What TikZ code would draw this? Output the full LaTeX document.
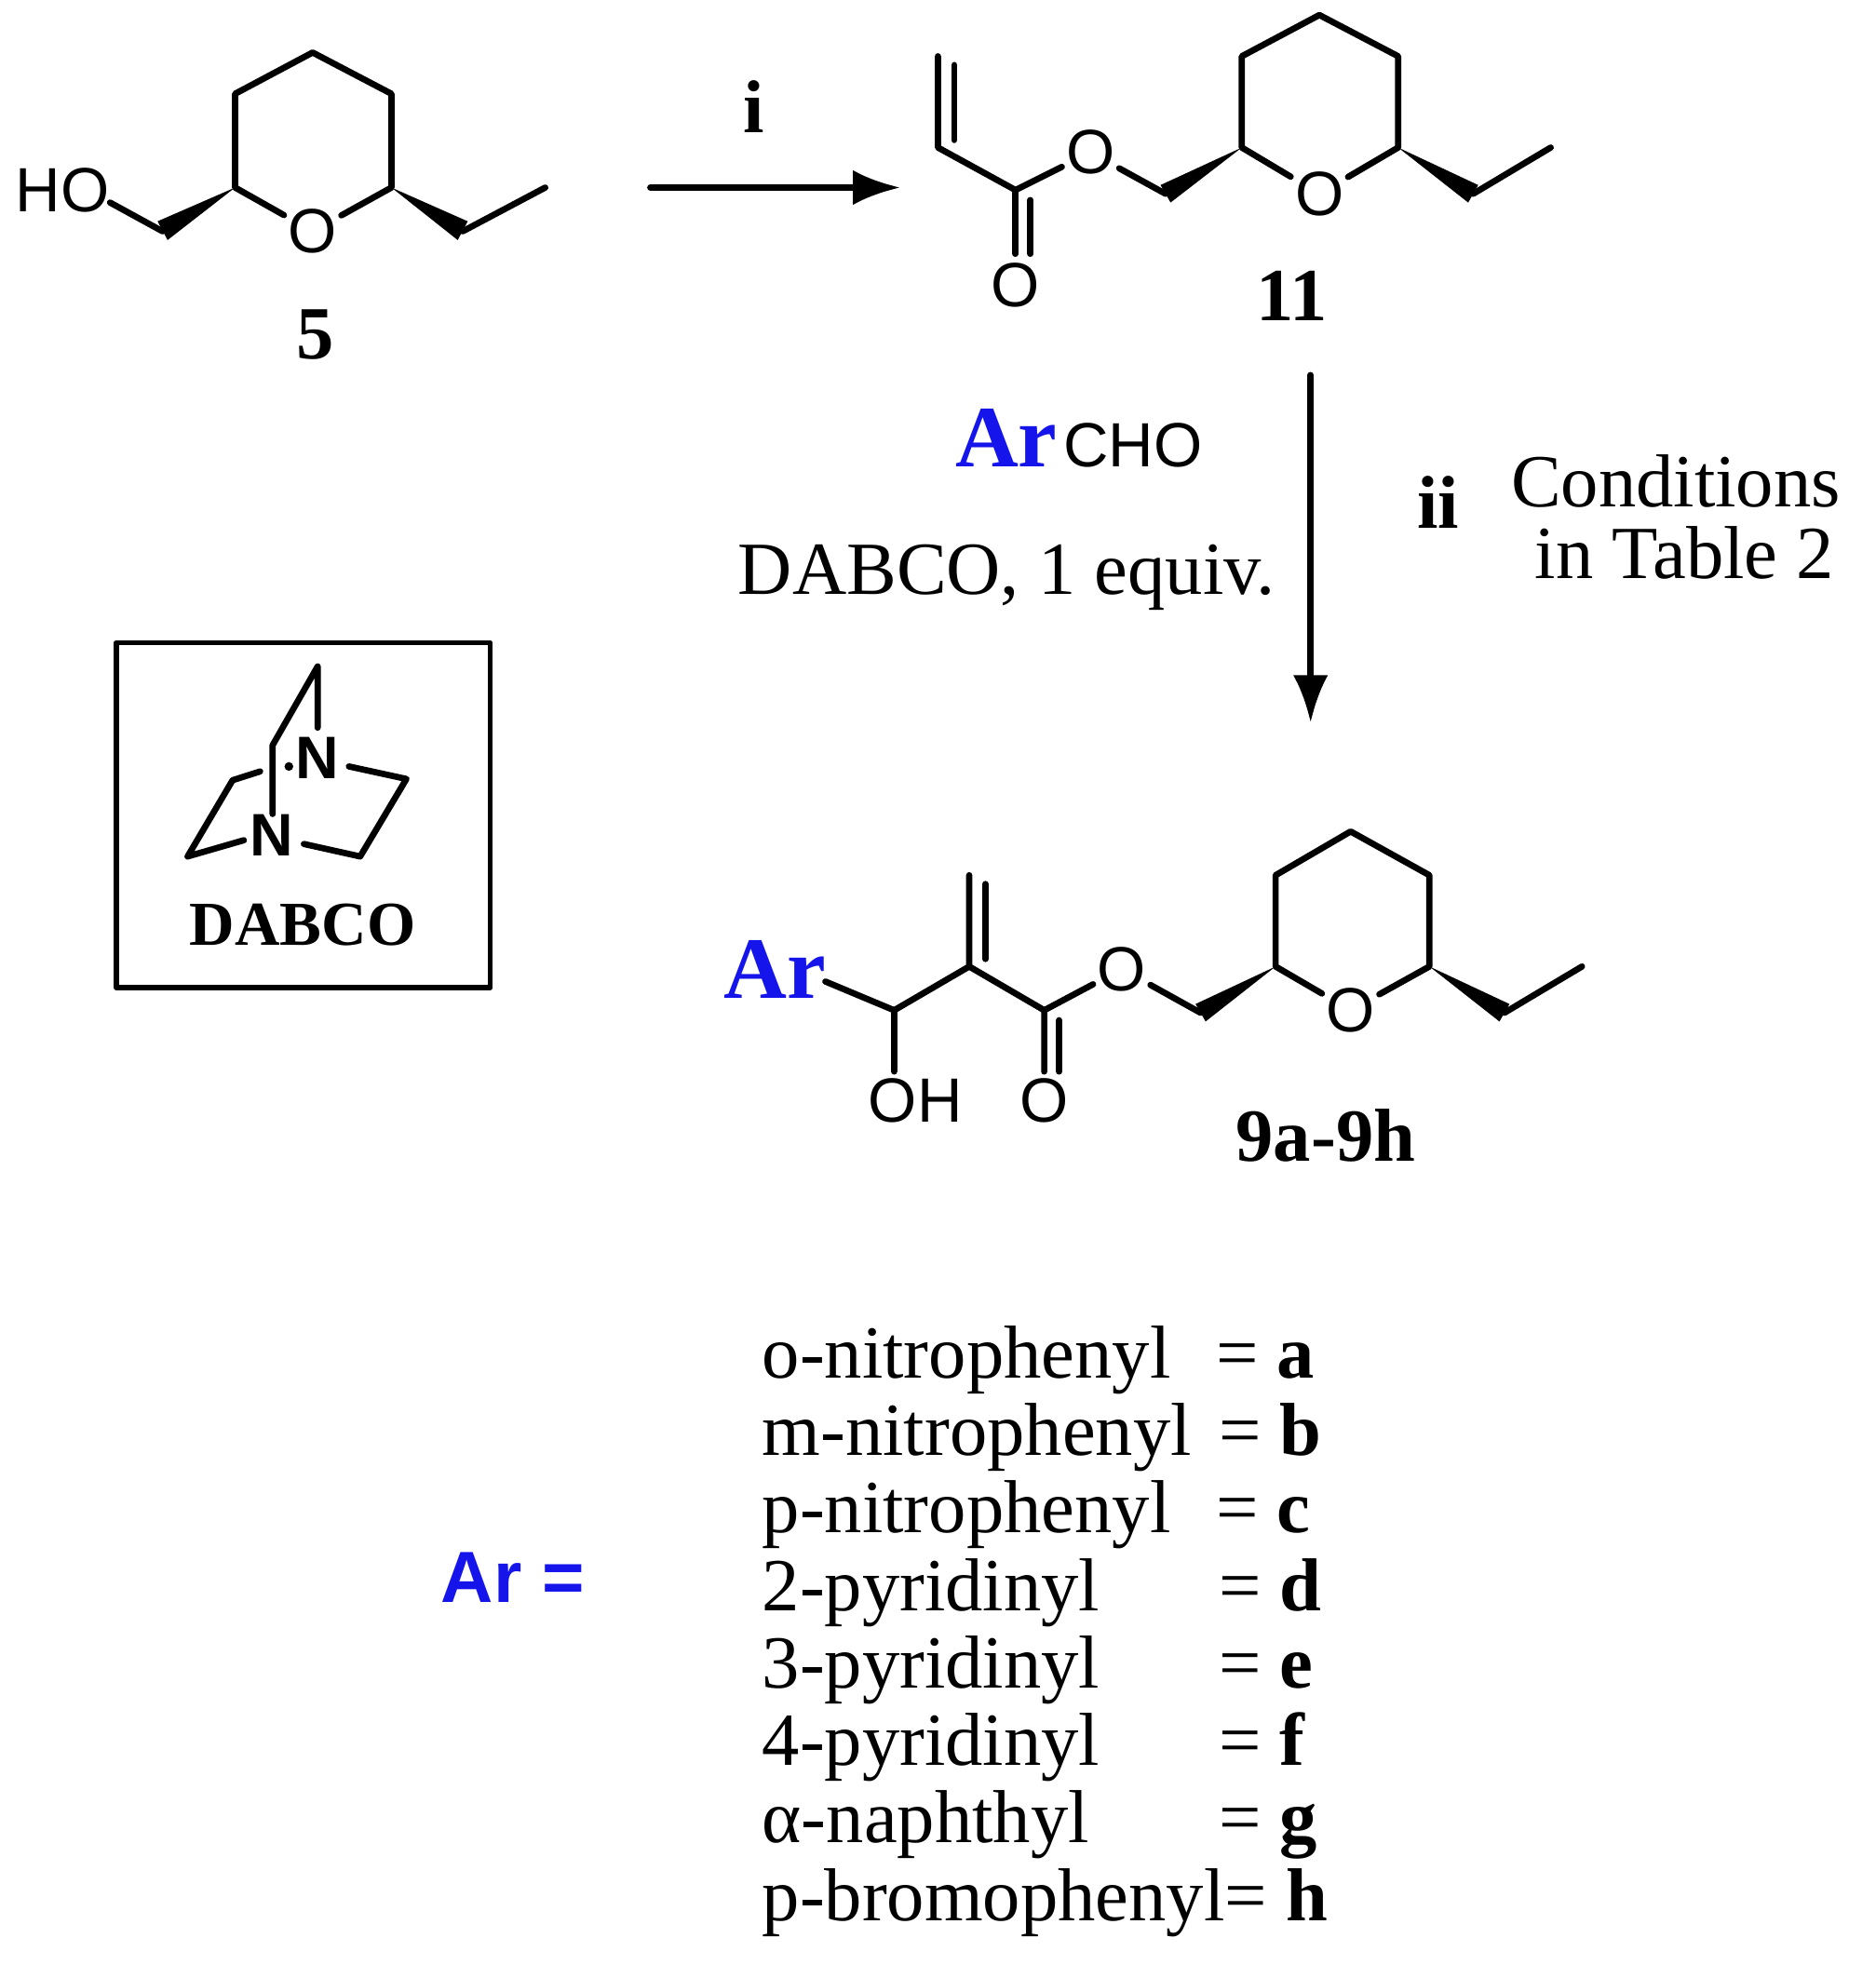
\documentclass[tikz,border=0pt]{standalone}
\usepackage{fontspec}
\usetikzlibrary{arrows.meta}
\setmainfont{Liberation Serif}
\newfontfamily\atomfont{Liberation Sans}
\definecolor{arblue}{RGB}{20,20,235}
\begin{document}
\begin{tikzpicture}[x=1pt,y=-1pt,line width=5pt,line cap=round,line join=round,
  atom/.style={font=\atomfont\fontsize{50}{50}\selectfont,inner sep=1pt},
  cpd/.style={font=\bfseries\fontsize{60}{60}\selectfont},
  txt/.style={font=\fontsize{60}{60}\selectfont,inner sep=0pt},
  lst/.style={font=\fontsize{60}{60}\selectfont,anchor=base west,inner sep=0pt},
  arlbl/.style={text=arblue,font=\bfseries\fontsize{70}{70}\selectfont,inner sep=0pt},
  arr/.style={-{Latex[length=38pt,width=28pt]},line width=5pt}]
\useasboundingbox (0,0) rectangle (1500,1582);
% ---- compound 5
\node[atom] (ho5) at (50,152) {HO};
\node[atom] (o5) at (250,185) {O};
\coordinate (a1) at (130,185); \coordinate (r1) at (188,150);
\coordinate (r2) at (188,75); \coordinate (r3) at (250,42);
\coordinate (r4) at (313,75); \coordinate (r5) at (313,150);
\coordinate (e1) at (370,185); \coordinate (e2) at (436,150);
\draw (88,162) -- (a1);
\fill (r1) -- (126,177) -- (134,192) -- cycle;
\draw (o5) -- (r1) -- (r2) -- (r3) -- (r4) -- (r5) -- (o5);
\fill (r5) -- (366,192) -- (374,177) -- cycle;
\draw (e1) -- (e2);
\node[cpd] (l5) at (252,268) {5};
% ---- arrow i
\coordinate (i1) at (520,150); \coordinate (i2) at (720,150);
\draw[arr] (i1) -- (i2);
\node[cpd] (li) at (603,85) {i};
% ---- compound 11
\node[atom] (o11a) at (812,228) {O};
\node[atom] (o11b) at (872,122) {O};
\node[atom] (o11c) at (1055,155) {O};
\coordinate (v1) at (750,45); \coordinate (v2) at (750,118); \coordinate (c11) at (812,152);
\coordinate (m11) at (932,155);
\coordinate (s1) at (993,118); \coordinate (s2) at (993,45); \coordinate (s3) at (1055,12);
\coordinate (s4) at (1118,45); \coordinate (s5) at (1118,118);
\coordinate (f1) at (1178,155); \coordinate (f2) at (1240,118);
\draw (v1) -- (v2) -- (c11);
\draw (763,52) -- (763,112);
\draw (c11) -- (812,203); \draw (824,160) -- (824,203);
\draw (c11) -- (o11b) -- (m11);
\fill (s1) -- (928,148) -- (936,162) -- cycle;
\draw (o11c) -- (s1) -- (s2) -- (s3) -- (s4) -- (s5) -- (o11c);
\fill (s5) -- (1174,162) -- (1182,148) -- cycle;
\draw (f1) -- (f2);
\node[cpd] (l11) at (1033,237) {11};
% ---- arrow ii
\coordinate (d1) at (1048,300); \coordinate (d2) at (1048,578);
\draw[arr] (d1) -- (d2);
\node[arlbl,anchor=base east] (archo) at (848,373) {Ar};
\node[atom,anchor=base west,inner sep=0pt] (cho) at (848,373) {CHO};
\node[txt] (dab) at (805,462) {DABCO, 1 equiv.};
\node[cpd] (lii) at (1150,402) {ii};
\node[txt] (cond) at (1340,385) {Conditions};
\node[txt] (tab) at (1347,442) {in Table 2};
% ---- DABCO box
\node[draw,line width=4pt,minimum width=299pt,minimum height=276pt,anchor=north west] (box) at (91,512) {};
\node[atom,font=\atomfont\bfseries\fontsize{48}{48}\selectfont] (n1) at (254,606) {N};
\node[atom,font=\atomfont\bfseries\fontsize{48}{48}\selectfont] (n2) at (217,668) {N};
\fill (231,613) circle (3.5pt);
\draw (254,582) -- (254,533) -- (218,596) -- (218,651);
\draw (208,617) -- (186,624) -- (150,685) -- (195,672);
\draw (279,613) -- (325,623) -- (288,685) -- (243,675);
\node[font=\bfseries\fontsize{50}{50}\selectfont] (dl) at (242,740) {DABCO};
% ---- compound 9
\node[arlbl] (ar9) at (620,775) {Ar};
\node[atom] (oh9) at (732,880) {OH};
\node[atom] (o9a) at (835,880) {O};
\node[atom] (o9b) at (897,775) {O};
\node[atom] (o9c) at (1080,808) {O};
\coordinate (p1) at (715,808); \coordinate (p2) at (775,773); \coordinate (p3) at (775,700);
\coordinate (p4) at (835,808); \coordinate (m9) at (960,810);
\coordinate (t1) at (1020,773); \coordinate (t2) at (1020,700); \coordinate (t3) at (1080,665);
\coordinate (t4) at (1143,700); \coordinate (t5) at (1143,773);
\coordinate (g1) at (1203,810); \coordinate (g2) at (1265,773);
\draw (660,785) -- (p1) -- (715,857);
\draw (p1) -- (p2) -- (p3); \draw (788,707) -- (788,767);
\draw (p2) -- (p4) -- (835,857); \draw (847,816) -- (847,857);
\draw (p4) -- (o9b) -- (m9);
\fill (t1) -- (956,803) -- (964,817) -- cycle;
\draw (o9c) -- (t1) -- (t2) -- (t3) -- (t4) -- (t5) -- (o9c);
\fill (t5) -- (1199,817) -- (1207,803) -- cycle;
\draw (g1) -- (g2);
\node[cpd] (l9) at (1060,908) {9a-9h};
% ---- list
\node[text=arblue,font=\atomfont\bfseries\fontsize{58}{58}\selectfont] (areq) at (410,1262) {Ar =};
\foreach \n/\y/\t/\l/\xx in {a/1102/o-nitrophenyl/a/970, b/1164/m-nitrophenyl/b/972, c/1226/p-nitrophenyl/c/970, d/1288/2-pyridinyl/d/972, e/1350/3-pyridinyl/e/972, f/1412/4-pyridinyl/f/972, g/1474/α-naphthyl/g/972}{
  \node[lst] (n\n) at (607,\y) {\t};
  \node[lst] (q\n) at (\xx,\y) {= \textbf{\l}};
}
\node[lst] (nh) at (607,1536) {p-bromophenyl= \textbf{h}};
\end{tikzpicture}
\end{document}
